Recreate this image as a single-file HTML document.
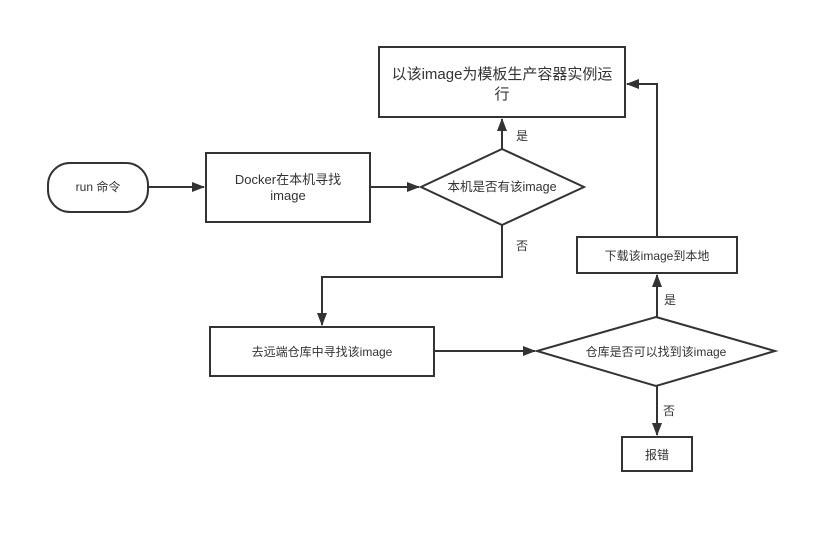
<!DOCTYPE html>
<html><head><meta charset="utf-8"><style>
body{margin:0;background:#fff}
text{font-family:"Liberation Sans","Noto Sans CJK SC",sans-serif;fill:#333}
</style></head><body>
<svg width="837" height="533" viewBox="0 0 837 533" xmlns="http://www.w3.org/2000/svg">
<defs><marker id="a" markerWidth="13" markerHeight="10" refX="12" refY="5" orient="auto" markerUnits="userSpaceOnUse"><path d="M0,0 L13,5 L0,10 Z" fill="#333"/></marker></defs>
<g fill="#fff" stroke="#333" stroke-width="2">
<rect x="48" y="163" width="100" height="49" rx="22"/>
<rect x="206" y="153" width="164" height="69"/>
<polygon points="502,149 584,187 502,225 421,187"/>
<rect x="379" y="47" width="246" height="70"/>
<rect x="210" y="327" width="224" height="49"/>
<polygon points="656,317 775,351 656,386 537,351"/>
<rect x="577" y="237" width="160" height="36"/>
<rect x="622" y="437" width="70" height="34"/>
</g>
<g fill="none" stroke="#333" stroke-width="2" marker-end="url(#a)">
<path d="M148,187 H204"/>
<path d="M370,187 H419"/>
<path d="M502,149 V119"/>
<path d="M502,225 V277 H322 V325"/>
<path d="M434,351 H535"/>
<path d="M657,317 V275"/>
<path d="M657,237 V84 H627"/>
<path d="M657,386 V435"/>
</g>
<g text-anchor="middle" font-size="12">
<text x="98" y="191">run 命令</text>
<text x="288" y="184" style="font-size:13px">Docker在本机寻找</text>
<text x="288" y="200" style="font-size:13px">image</text>
<text x="502" y="191" style="font-size:12.5px">本机是否有该image</text>
<text x="502" y="79" style="font-size:15px">以该image为模板生产容器实例运</text>
<text x="502" y="99" style="font-size:15px">行</text>
<text x="322" y="356">去远端仓库中寻找该image</text>
<text x="656" y="356">仓库是否可以找到该image</text>
<text x="657" y="260">下载该image到本地</text>
<text x="657" y="459">报错</text>
<text x="522" y="140">是</text>
<text x="522" y="250">否</text>
<text x="670" y="304">是</text>
<text x="669" y="415">否</text>
</g>
</svg>
</body></html>
